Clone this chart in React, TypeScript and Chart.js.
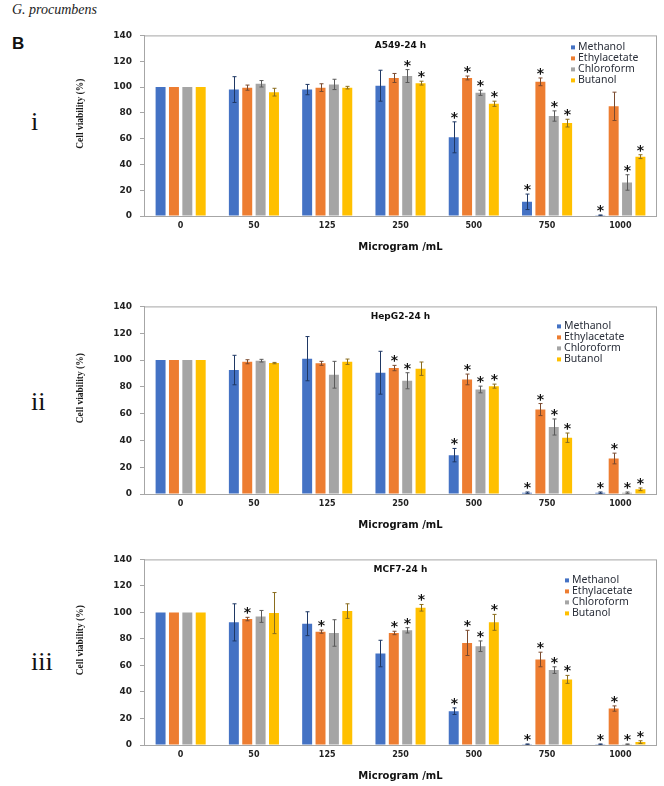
import React, { useEffect, useRef } from 'react';
import { Chart, registerables } from 'chart.js';

Chart.register(...registerables);

// ---------- data ----------
const concentrations = ['0', '50', '125', '250', '500', '750', '1000'];
const extracts = ['Methanol', 'Ethylacetate', 'Chloroform', 'Butanol'];
const barColors = ['#4472C4', '#ED7D31', '#A5A5A5', '#FFC000'];
const errColors = ['#1F3864', '#7A4A2E', '#5A5A5A', '#8A6D1E'];

// A549-24 h (rows: Methanol, Ethylacetate, Chloroform, Butanol)
const a549Values = [
  [100, 98, 98, 101, 61, 11, 0.5],
  [100, 99.5, 99.5, 107, 107, 104, 85],
  [100, 102.5, 102, 108.5, 95.5, 77.5, 26],
  [100, 96, 99.5, 103, 87, 72, 46],
];
const a549Errors = [
  [0, 10, 4, 12, 12, 6, 0.3],
  [0, 2, 3, 3.5, 1.5, 3, 11],
  [0, 2.5, 4, 5, 2, 4, 6],
  [0, 3, 1, 1.5, 2, 3, 1.5],
];
const a549Sig = [
  [0, 0, 0, 0, 1, 1, 1],
  [0, 0, 0, 0, 1, 1, 0],
  [0, 0, 0, 1, 1, 1, 1],
  [0, 0, 0, 1, 1, 1, 1],
];

// HepG2-24 h
const hepg2Values = [
  [100, 92.5, 101, 90.5, 29, 1, 1],
  [100, 98.7, 97.5, 94, 85.5, 63, 26.5],
  [100, 99.5, 89, 84.5, 78, 50, 1],
  [100, 97.7, 98.7, 93.5, 80.5, 42, 3.5],
];
const hepg2Errors = [
  [0, 11, 16.5, 16, 5, 0.5, 0.5],
  [0, 1.5, 1.5, 2, 4, 4.5, 4],
  [0, 1, 10, 6, 2.5, 6, 0.5],
  [0, 0.5, 2, 5, 1.5, 3.5, 1],
];
const hepg2Sig = [
  [0, 0, 0, 0, 1, 1, 1],
  [0, 0, 0, 1, 1, 1, 1],
  [0, 0, 0, 1, 1, 1, 1],
  [0, 0, 0, 0, 1, 1, 1],
];

// MCF7-24 h
const mcf7Values = [
  [100, 92.5, 91.5, 69, 25.5, 0.5, 0.5],
  [100, 95, 85.5, 84.5, 77, 64.5, 27.5],
  [100, 97, 84.5, 86.5, 74.5, 56.5, 0.5],
  [100, 99.5, 101, 103.5, 92.5, 49.5, 2.2],
];
const mcf7Errors = [
  [0, 14, 9, 10, 2.5, 0.3, 0.3],
  [0, 1.3, 1.2, 1.3, 9.5, 5.5, 2],
  [0, 4.5, 10, 2, 4, 2.5, 0.3],
  [0, 15.5, 5.5, 2.5, 6, 3, 1],
];
const mcf7Sig = [
  [0, 0, 0, 0, 1, 1, 1],
  [0, 1, 1, 1, 1, 1, 1],
  [0, 0, 0, 1, 1, 1, 1],
  [0, 0, 0, 1, 1, 1, 1],
];

const yAxisTitle = 'Cell viability (%)';
const xAxisTitle = 'Microgram /mL';

type PanelDef = {
  title: string;
  values: number[][];
  errors: number[][];
  sig: number[][];
  top: number;
  height: number;
  legendDx: number;
  legendDy: number;
};

const panels: PanelDef[] = [
  { title: 'A549-24 h', values: a549Values, errors: a549Errors, sig: a549Sig, top: 22, height: 234, legendDx: -79, legendDy: 12 },
  { title: 'HepG2-24 h', values: hepg2Values, errors: hepg2Errors, sig: hepg2Sig, top: 293, height: 241, legendDx: -93, legendDy: 20 },
  { title: 'MCF7-24 h', values: mcf7Values, errors: mcf7Errors, sig: mcf7Sig, top: 546, height: 239, legendDx: -85, legendDy: 21 },
];

function makeOverlay(p: PanelDef) {
  return {
    id: 'overlay',
    afterDatasetsDraw(chart: any) {
      const { ctx, scales } = chart;
      const y = scales.y;
      ctx.save();
      chart.data.datasets.forEach((ds: any, i: number) => {
        const meta = chart.getDatasetMeta(i);
        meta.data.forEach((bar: any, j: number) => {
          const v = ds.data[j];
          const e = p.errors[i][j];
          const x = Math.round(bar.x) + 0.5;
          const yTop = y.getPixelForValue(v + e);
          if (e > 0) {
            const yBot = y.getPixelForValue(Math.max(0, v - e));
            ctx.strokeStyle = errColors[i];
            ctx.lineWidth = 1;
            ctx.beginPath();
            ctx.moveTo(x, yTop);
            ctx.lineTo(x, yBot);
            ctx.moveTo(x - 2, yTop);
            ctx.lineTo(x + 2, yTop);
            ctx.moveTo(x - 2, yBot);
            ctx.lineTo(x + 2, yBot);
            ctx.stroke();
          }
          if (p.sig[i][j]) {
            ctx.fillStyle = '#111';
            ctx.font = 'bold 14px "DejaVu Sans"';
            ctx.textAlign = 'center';
            ctx.textBaseline = 'alphabetic';
            const cy = yTop - 8;
            ctx.fillText('*', x, cy + 8);
          }
        });
      });
      ctx.restore();
    },
    afterDraw(chart: any) {
      const { ctx, chartArea } = chart;
      const { left, right, top, bottom } = chartArea;
      ctx.save();
      // plot border
      ctx.strokeStyle = '#A6A6A6';
      ctx.lineWidth = 1;
      ctx.strokeRect(left + 0.5, top + 0.5, right - left - 1, bottom - top);
      // chart title inside plot
      ctx.fillStyle = '#111';
      ctx.font = 'bold 9px "DejaVu Sans"';
      ctx.textAlign = 'center';
      ctx.textBaseline = 'middle';
      ctx.fillText(p.title, (left + right) / 2, top + 10);
      // legend inside plot
      ctx.font = '10.5px "Noto Sans"';
      ctx.textAlign = 'left';
      chart.data.datasets.forEach((ds: any, i: number) => {
        const ty = top + p.legendDy + i * 11;
        const tx = right + p.legendDx;
        ctx.fillStyle = barColors[i];
        ctx.fillRect(tx - 7, ty - 2, 4, 4);
        ctx.fillStyle = '#2a2f3a';
        ctx.fillText(ds.label, tx, ty);
      });
      // y axis title
      ctx.translate(81, (top + bottom) / 2 - 12);
      ctx.rotate(-Math.PI / 2);
      ctx.fillStyle = '#1a1a1a';
      ctx.font = 'bold 9.5px "Liberation Sans Narrow"';
      ctx.textAlign = 'center';
      ctx.textBaseline = 'middle';
      ctx.fillText(yAxisTitle, 0, 0);
      ctx.restore();
    },
  };
}

function Panel({ p }: { p: PanelDef }) {
  const ref = useRef<HTMLCanvasElement>(null);
  useEffect(() => {
    if (!ref.current) return;
    const chart = new Chart(ref.current, {
      type: 'bar',
      data: {
        labels: concentrations,
        datasets: extracts.map((name, i) => ({
          label: name,
          data: p.values[i],
          backgroundColor: barColors[i],
          borderWidth: 0,
          categoryPercentage: 0.73,
          barPercentage: 0.745,
        })),
      },
      options: {
        responsive: false,
        animation: false,
        layout: { padding: { left: 77, right: 7, top: 10, bottom: 3 } },
        plugins: {
          legend: { display: false },
          title: { display: false },
          tooltip: { enabled: false },
        },
        scales: {
          x: {
            grid: { display: false, drawTicks: false },
            border: { display: false },
            ticks: {
              font: { family: 'DejaVu Sans', weight: 'bold', size: 8 },
              color: '#222',
              padding: 5,
              maxRotation: 0,
              autoSkip: false,
            },
            title: {
              display: true,
              text: xAxisTitle,
              font: { family: 'DejaVu Sans', weight: 'bold', size: 10 },
              color: '#111',
              padding: { top: 0, bottom: 0 },
            },
            afterFit: (s: any) => {
              s.height = 37;
            },
          },
          y: {
            min: 0,
            max: 140,
            ticks: {
              stepSize: 20,
              font: { family: 'DejaVu Sans', weight: 'bold', size: 9 },
              color: '#222',
              padding: 8,
            },
            grid: { display: true, drawOnChartArea: false, drawTicks: true, tickLength: 4, color: '#A6A6A6' },
            border: { display: true, color: '#A6A6A6' },
            afterFit: (s: any) => {
              s.width = 67;
            },
          },
        },
      } as any,
      plugins: [makeOverlay(p)],
    });
    return () => chart.destroy();
  }, [p]);
  return (
    <canvas
      ref={ref}
      width={664}
      height={p.height}
      style={{ position: 'absolute', left: 0, top: p.top, width: 664, height: p.height }}
    />
  );
}

const romanLabels = ['i', 'ii', 'iii'];
const romanTops = [109, 389, 649];

export default function App() {
  return (
    <div
      style={{
        position: 'absolute',
        left: 0,
        top: 0,
        width: 664,
        height: 786,
        background: '#fff',
        overflow: 'hidden',
      }}
    >
      <div
        style={{
          position: 'absolute',
          left: 12,
          top: 3,
          fontFamily: '"Liberation Serif", serif',
          fontStyle: 'italic',
          fontSize: 14,
          lineHeight: 1,
          color: '#222',
        }}
      >
        G. procumbens
      </div>
      <div
        style={{
          position: 'absolute',
          left: 12,
          top: 35,
          fontFamily: '"Liberation Sans", Arial, sans-serif',
          fontWeight: 'bold',
          fontSize: 17,
          lineHeight: 1,
          color: '#111',
        }}
      >
        B
      </div>
      {romanLabels.map((r, i) => (
        <div
          key={r}
          style={{
            position: 'absolute',
            left: 31,
            top: romanTops[i],
            fontFamily: '"Liberation Serif", serif',
            fontSize: 26,
            lineHeight: 1,
            color: '#111',
          }}
        >
          {r}
        </div>
      ))}
      {panels.map((p) => (
        <Panel key={p.title} p={p} />
      ))}
    </div>
  );
}
